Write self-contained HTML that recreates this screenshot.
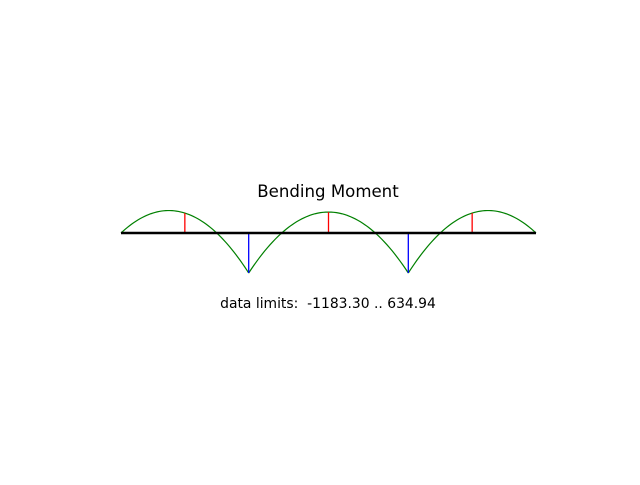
<!DOCTYPE html>
<html><head><meta charset="utf-8"><style>
html,body{margin:0;padding:0;background:#fff;}
svg text{font-family:"DejaVu Sans","Liberation Sans",sans-serif;white-space:pre;}
</style></head><body>
<svg id="chart" width="640" height="480" viewBox="0 0 640 480" xmlns="http://www.w3.org/2000/svg" xml:space="preserve">
<rect width="640" height="480" fill="#fff"/>
<text x="328" y="197" text-anchor="middle" font-size="16.6" fill="#000">Bending Moment</text>
<g id="marks"></g>
<text x="328" y="308" text-anchor="middle" font-size="13.9" fill="#000">data limits:  -1183.30 .. 634.94</text>
</svg>
<script>
const supports = [0, 4, 9, 13];
const supportMoments = [0, -1183.3, -1183.3, 0];
const midspanMoments = [590, 620, 590];

const X0 = 121, X1 = 536, Y0 = 233, YS = 40 / 1183.3;
const xs = v => X0 + (v - supports[0]) / (supports[supports.length - 1] - supports[0]) * (X1 - X0);
const ys = m => Y0 - m * YS;
const NS = 'http://www.w3.org/2000/svg';
const g = document.getElementById('marks');

for (let i = 0; i < supports.length - 1; i++) {
  const a = supports[i], b = supports[i + 1];
  const Ma = supportMoments[i], Mb = supportMoments[i + 1], Mm = midspanMoments[i];
  const c = 4 * (Mm - (Ma + Mb) / 2);
  let d = '';
  for (let k = 0; k <= 60; k++) {
    const t = k / 60;
    const m = Ma + (Mb - Ma) * t + c * t * (1 - t);
    d += (k ? 'L' : 'M') + xs(a + (b - a) * t).toFixed(2) + ',' + ys(m).toFixed(2);
  }
  const p = document.createElementNS(NS, 'path');
  p.setAttribute('d', d);
  p.setAttribute('fill', 'none');
  p.setAttribute('stroke', 'green');
  p.setAttribute('stroke-width', '1.2');
  
  
  g.appendChild(p);

  const xm = xs((a + b) / 2);
  const r = document.createElementNS(NS, 'line');
  r.setAttribute('x1', xm); r.setAttribute('x2', xm);
  r.setAttribute('y1', Y0); r.setAttribute('y2', ys(Mm));
  r.setAttribute('stroke', 'red'); r.setAttribute('stroke-width', '1.3');
  
  
  g.appendChild(r);
}
for (let i = 0; i < supports.length; i++) {
  if (supportMoments[i] === 0) continue;
  const x = xs(supports[i]);
  const l = document.createElementNS(NS, 'line');
  l.setAttribute('x1', x); l.setAttribute('x2', x);
  l.setAttribute('y1', Y0); l.setAttribute('y2', ys(supportMoments[i]));
  l.setAttribute('stroke', 'blue'); l.setAttribute('stroke-width', '1.3');
  
  
  g.appendChild(l);
}
const beam = document.createElementNS(NS, 'line');
beam.setAttribute('x1', X0); beam.setAttribute('x2', X1);
beam.setAttribute('y1', Y0); beam.setAttribute('y2', Y0);
beam.setAttribute('stroke', '#000'); beam.setAttribute('stroke-width', '2.5');


g.appendChild(beam);
</script>
</body></html>
